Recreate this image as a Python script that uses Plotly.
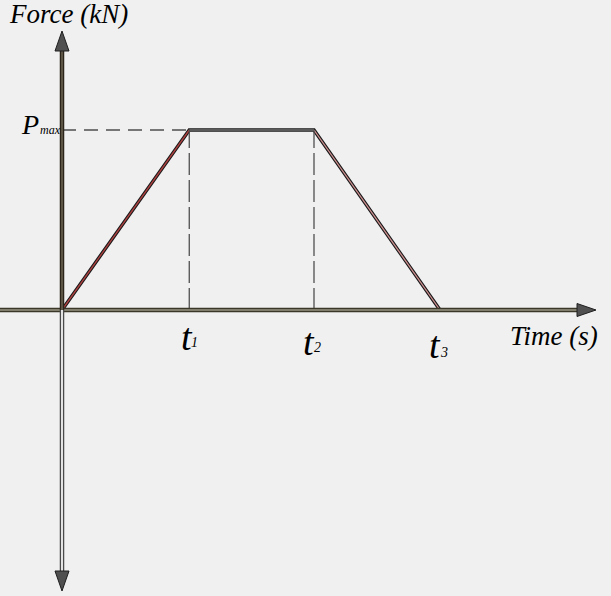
import plotly.graph_objects as go

# ---- data ----
time_points = [0, 1.01, 2.0, 3.0]   # 0, t1, t2, t3
force_values = [0, 1, 1, 0]         # 0, Pmax, Pmax, 0
tick_letters = ["t", "t", "t"]
tick_subs = ["1", "2", "3"]
pmax_value = 1

W, H = 611, 596
ox, oy = 62, 310          # origin pixel
sx, sy = 126.0, 180.0     # px per unit
x_range = [-ox / sx, (W - ox) / sx]
y_range = [-(H - oy) / sy, oy / sy]

def px(v):
    return v / sx

def py(v):
    return v / sy

fig = go.Figure()
shapes = []

# dashed guide lines
shapes.append(dict(type="line", x0=0, x1=time_points[1], y0=pmax_value, y1=pmax_value,
                   line=dict(color="#767676", width=2, dash="14px,8px")))
for t in time_points[1:3]:
    shapes.append(dict(type="line", x0=t, x1=t, y0=0, y1=pmax_value,
                       line=dict(color="#505050", width=1.3, dash="22px,5px")))

# x axis
x_left = x_range[0]
x_arrow_base = px(577 - ox)
x_arrow_tip = px(596 - ox)
shapes.append(dict(type="line", x0=x_left, x1=x_arrow_base, y0=0, y1=0,
                   line=dict(color="#3a3628", width=4.5)))
shapes.append(dict(type="line", x0=x_left, x1=x_arrow_base, y0=0, y1=0,
                   line=dict(color="#9a9684", width=1.5)))
# y axis upper (dark) and lower (light)
y_top_base = py(oy - 51)
y_top_tip = py(oy - 31)
y_bot_base = -py(571 - oy)
y_bot_tip = -py(591 - oy)
shapes.append(dict(type="line", x0=0, x1=0, y0=0, y1=y_top_base,
                   line=dict(color="#2a241a", width=4.5)))
shapes.append(dict(type="line", x0=0, x1=0, y0=0, y1=y_top_base,
                   line=dict(color="#6e6656", width=1.5)))
shapes.append(dict(type="line", x0=0, x1=0, y0=y_bot_base, y1=0,
                   line=dict(color="#4a4a4a", width=4.5)))
shapes.append(dict(type="line", x0=0, x1=0, y0=y_bot_base, y1=0,
                   line=dict(color="#f4f4f4", width=1.8)))

# arrowheads
hw_x = px(7)
hw_y = py(6.5)
arrow_style = dict(fillcolor="#505050", line=dict(color="#1e1e1e", width=1))
shapes.append(dict(type="path",
                   path=f"M {x_arrow_base},{hw_y} L {x_arrow_tip},0 L {x_arrow_base},{-hw_y} Z",
                   **arrow_style))
shapes.append(dict(type="path",
                   path=f"M {-hw_x},{y_top_base} L 0,{y_top_tip} L {hw_x},{y_top_base} Z",
                   **arrow_style))
shapes.append(dict(type="path",
                   path=f"M {-hw_x},{y_bot_base} L 0,{y_bot_tip} L {hw_x},{y_bot_base} Z",
                   **arrow_style))

# load curve: outer dark, inner colored
fig.add_trace(go.Scatter(x=time_points, y=force_values, mode="lines",
                         line=dict(color="#1a1a1a", width=3.5), hoverinfo="skip"))
fig.add_trace(go.Scatter(x=time_points[0:2], y=force_values[0:2], mode="lines",
                         line=dict(color="#b04040", width=1.3), hoverinfo="skip"))
fig.add_trace(go.Scatter(x=time_points[1:3], y=force_values[1:3], mode="lines",
                         line=dict(color="#9a9a9a", width=1.2), hoverinfo="skip"))
fig.add_trace(go.Scatter(x=time_points[2:4], y=force_values[2:4], mode="lines",
                         line=dict(color="#d09090", width=1.3), hoverinfo="skip"))

serif = "Liberation Serif, Times New Roman, serif"
black = "#000000"
annotations = []
annotations.append(dict(x=0, y=y_range[1], xref="x", yref="y", xanchor="center", yanchor="middle",
                        xshift=6, yshift=-14, text="<i>Force (kN)</i>", showarrow=False,
                        font=dict(family=serif, size=27, color=black)))
annotations.append(dict(x=x_range[1], y=0, xref="x", yref="y", xanchor="center", yanchor="middle",
                        xshift=-57.5, yshift=-26, text="<i>Time (s)</i>", showarrow=False,
                        font=dict(family=serif, size=27, color=black)))
annotations.append(dict(x=0, y=pmax_value, xref="x", yref="y", xanchor="center", yanchor="middle",
                        xshift=-32, yshift=6, text="<i>P</i>", showarrow=False,
                        font=dict(family=serif, size=28, color=black)))
annotations.append(dict(x=0, y=pmax_value, xref="x", yref="y", xanchor="center", yanchor="middle",
                        xshift=-11.5, yshift=0, text="<i>max</i>", showarrow=False,
                        font=dict(family=serif, size=12, color=black)))

t_shift = [(-2.5, -26.5), (-5, -31.5), (-5, -35)]
s_shift = [(5.5, -32.5), (3.5, -37.5), (3.5, -42)]
for pos, let, sub, (tx, ty), (sxh, syh) in zip(time_points[1:], tick_letters, tick_subs, t_shift, s_shift):
    annotations.append(dict(x=pos, y=0, xref="x", yref="y", xanchor="center", yanchor="middle",
                            xshift=tx, yshift=ty, text=f"<i>{let}</i>", showarrow=False,
                            font=dict(family=serif, size=38, color=black)))
    annotations.append(dict(x=pos, y=0, xref="x", yref="y", xanchor="center", yanchor="middle",
                            xshift=sxh, yshift=syh, text=f"<i>{sub}</i>", showarrow=False,
                            font=dict(family=serif, size=14, color=black)))

fig.update_layout(
    width=W, height=H,
    margin=dict(l=0, r=0, t=0, b=0, pad=0),
    paper_bgcolor="#f0f0f0", plot_bgcolor="#f0f0f0",
    showlegend=False,
    xaxis=dict(range=x_range, visible=False, fixedrange=True),
    yaxis=dict(range=y_range, visible=False, fixedrange=True),
    shapes=shapes, annotations=annotations,
)
fig.write_html("out.html", config={"displayModeBar": False},
               post_script="document.body.style.margin='0';document.body.style.background='#f0f0f0';")
